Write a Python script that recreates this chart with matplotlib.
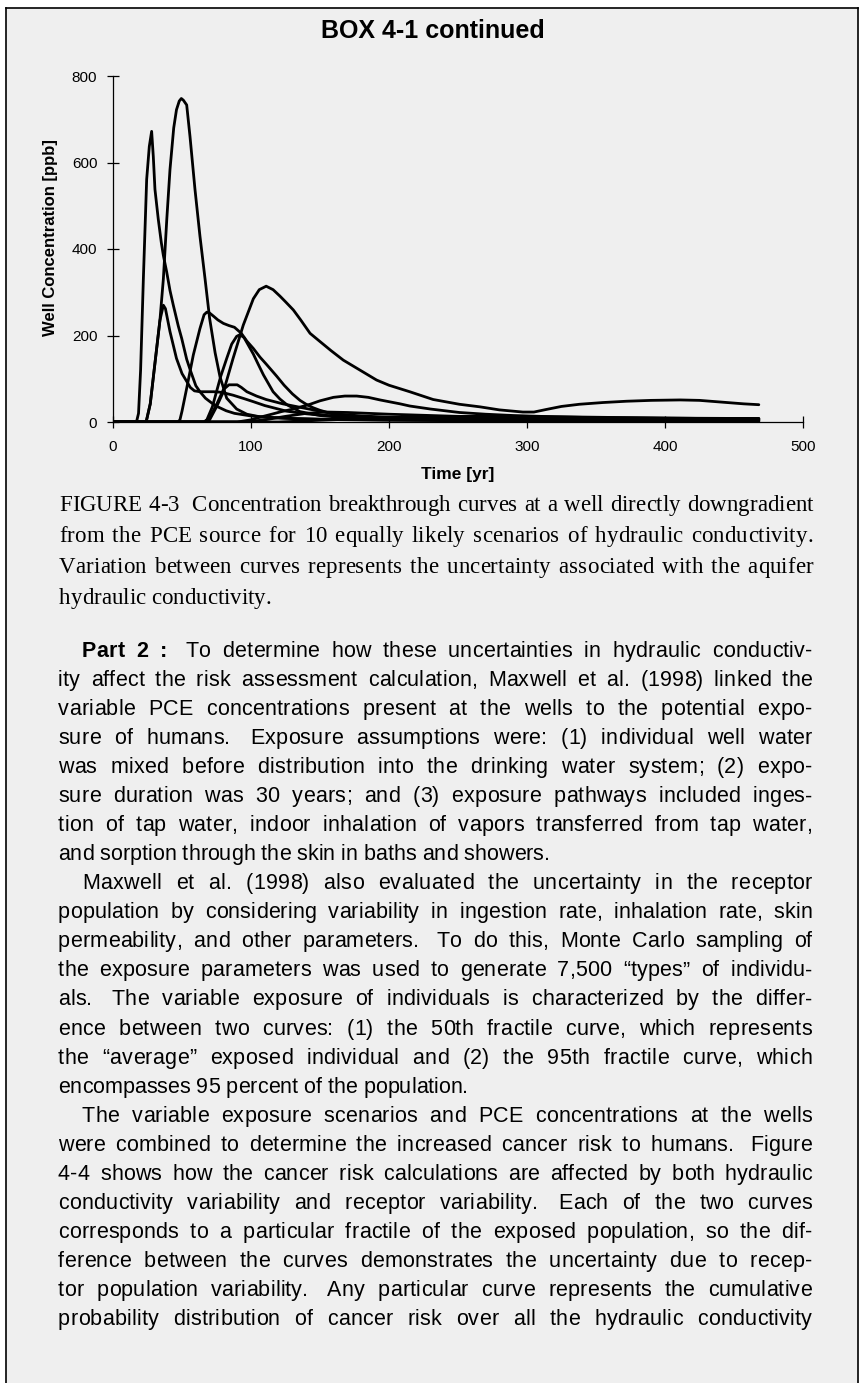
import matplotlib
matplotlib.use("Agg")
import matplotlib.pyplot as plt
from matplotlib.lines import Line2D
from matplotlib.patches import Rectangle

# page size in pixels
W, H = 865, 1383

# ---- chart data: 10 breakthrough curves (time [yr], concentration [ppb]) ----
time_1 = [0, 17, 18.5, 20, 22, 24.4, 26.3, 28, 29.2, 30.4, 32.8, 35, 36.5, 38.9, 41.3, 43.7, 47.3, 49.8,
          53.4, 56, 60, 63, 67, 71.5, 76, 82, 88, 100, 115, 130, 150, 175, 200, 250, 300, 350, 400, 468]
conc_1 = [0, 0, 20, 120, 331, 561, 637, 672, 614, 538, 469, 415, 385, 347, 304, 270, 222, 193,
          145, 120, 84, 70, 55, 44, 35, 26, 20, 14, 10, 8, 6, 5, 4, 3, 2.5, 2, 2, 1.5]

time_2 = [0, 24, 27, 30, 34, 36.5, 39, 41.3, 44, 46, 48, 49.5, 51, 53.4, 55.8, 59.4, 63, 66.7, 70,
          74, 77.5, 82.4, 89.6, 97, 106.5, 130, 160, 200, 250, 300, 400, 468]
conc_2 = [0, 0, 42, 125, 235, 331, 470, 584, 680, 722, 742, 748, 744, 733, 660, 538, 430, 331, 240,
          160, 105, 55, 30, 18, 12, 8, 6, 5, 4, 3.5, 3, 2.5]

time_3 = [0, 24, 27, 30, 34, 36.5, 38, 41.3, 46, 50, 53.4, 56, 59, 63, 68, 73, 77.5, 82, 87, 95,
          101.7, 110, 125.8, 140, 150, 175, 200, 250, 300, 400, 468]
conc_3 = [0, 0, 42, 125, 235, 270, 262, 209, 147, 112, 94, 80, 72, 70, 70, 70, 69, 66, 62, 54,
          47, 38, 25, 19, 16, 12, 10, 8, 7, 6, 5.5]

time_4 = [0, 47, 48.5, 50, 53.4, 58.2, 63, 66, 68, 70, 72.7, 76, 80, 84, 88, 93, 97, 101.7, 106.5,
          111, 118.6, 124, 130, 135.5, 140, 145, 150, 160, 180, 200, 250, 300, 400, 468]
conc_4 = [0, 0, 5, 25, 78, 155, 216, 248, 254, 252, 245, 236, 228, 223, 219, 205, 187, 170, 150,
          134, 106, 85, 65, 50, 41, 33, 27, 18, 12, 9, 7, 6, 5, 4.5]

time_5 = [0, 66, 68, 72, 75, 78, 82.4, 86, 89.6, 92, 95, 98, 101.7, 105, 109, 116, 121, 126, 135.5,
          150, 160, 180, 200, 250, 300, 400, 468]
conc_5 = [0, 0, 5, 35, 70, 105, 147, 180, 198, 202, 195, 178, 157, 135, 109, 70, 53, 40, 24,
          15, 12, 9, 7, 5.5, 4.5, 4, 3.5]

time_6 = [0, 68, 70, 75, 80, 87, 94.4, 101.7, 106, 111, 116, 121, 125, 130.7, 136, 142.8, 150, 158,
          166.9, 180, 191, 200, 215, 232, 251, 266, 280, 297, 305, 314, 325, 338, 355, 372, 390, 411,
          425, 437, 457, 468]
conc_6 = [0, 0, 5, 35, 70, 147, 224, 285, 306, 314, 306, 291, 278, 259, 236, 205, 186, 165,
          143, 118, 97, 85, 70, 52, 41, 35, 28, 23, 23, 29, 36, 41, 45, 48, 50, 51,
          50, 47, 42, 40]

time_7 = [0, 90, 100, 106.5, 115, 122, 130.7, 142.8, 150, 159.7, 168, 176.6, 185, 193.5, 208, 215,
          230, 251, 270, 290, 320, 350, 400, 468]
conc_7 = [0, 0, 5, 11, 18, 24, 30, 41, 49, 57, 60, 60, 57, 51, 42, 37,
          30, 22, 18, 15, 12, 10, 9, 8]

time_8 = [0, 66, 70, 75, 80, 84, 90, 93, 97, 104, 111, 123, 135.5, 150, 160, 180, 200, 250, 300, 400, 468]
conc_8 = [0, 0, 9, 40, 75, 86, 86, 80, 70, 60, 52, 42, 34, 25, 19, 14, 11, 8.5, 7.5, 6.5, 6]

time_9 = [0, 95, 110, 125, 140, 155, 170, 200, 250, 300, 350, 400, 468]
conc_9 = [0, 0, 5, 13, 20, 23, 22, 18, 13, 10, 9, 8.5, 8]

time_10 = [0, 120, 150, 200, 250, 300, 350, 400, 468]
conc_10 = [0, 0, 4, 10, 13, 13, 11, 9, 7]

x_ticks = [0, 100, 200, 300, 400, 500]
y_ticks = [0, 200, 400, 600, 800]

# ---- text of the page ----
title = "BOX 4-1 continued"
x_label = "Time [yr]"
y_label = "Well Concentration [ppb]"

caption_lines = [
    "FIGURE 4-3  Concentration breakthrough curves at a well directly downgradient",
    "from the PCE source for 10 equally likely scenarios of hydraulic conductivity.",
    "Variation between curves represents the uncertainty associated with the aquifer",
    "hydraulic conductivity.",
]

body_lines = [
    "Part 2 :  To determine how these uncertainties in hydraulic conductiv-",
    "ity affect the risk assessment calculation, Maxwell et al. (1998) linked the",
    "variable PCE concentrations present at the wells to the potential expo-",
    "sure of humans.  Exposure assumptions were: (1) individual well water",
    "was mixed before distribution into the drinking water system; (2) expo-",
    "sure duration was 30 years; and (3) exposure pathways included inges-",
    "tion of tap water, indoor inhalation of vapors transferred from tap water,",
    "and sorption through the skin in baths and showers.",
    "Maxwell et al. (1998) also evaluated the uncertainty in the receptor",
    "population by considering variability in ingestion rate, inhalation rate, skin",
    "permeability, and other parameters.  To do this, Monte Carlo sampling of",
    "the exposure parameters was used to generate 7,500 \u201ctypes\u201d of individu-",
    "als.  The variable exposure of individuals is characterized by the differ-",
    "ence between two curves: (1) the 50th fractile curve, which represents",
    "the \u201caverage\u201d exposed individual and (2) the 95th fractile curve, which",
    "encompasses 95 percent of the population.",
    "The variable exposure scenarios and PCE concentrations at the wells",
    "were combined to determine the increased cancer risk to humans.  Figure",
    "4-4 shows how the cancer risk calculations are affected by both hydraulic",
    "conductivity variability and receptor variability.  Each of the two curves",
    "corresponds to a particular fractile of the exposed population, so the dif-",
    "ference between the curves demonstrates the uncertainty due to recep-",
    "tor population variability.  Any particular curve represents the cumulative",
    "probability distribution of cancer risk over all the hydraulic conductivity",
]
# lines that start a paragraph (indented) and lines that end one (not justified)
para_start = [0, 8, 16]
para_end = [7, 15]


def fx(x):
    return x / W


def fy(y):
    return 1 - y / H


body_kw = dict(fontsize=15.5, family="Liberation Sans")
cap_kw = dict(fontsize=16.5, family="Liberation Serif")

fig = plt.figure(figsize=(W / 100, H / 100), dpi=100)
fig.patch.set_facecolor("white")

# grey box with left / top / right border
fig.patches.append(Rectangle((fx(6), 0), fx(858) - fx(6), fy(8), transform=fig.transFigure,
                             facecolor="#efefef", edgecolor="none", zorder=-10))
for xs, ys in [([6, 6], [8, H]), ([6, 858], [8, 8]), ([858, 858], [8, H])]:
    fig.lines.append(Line2D([fx(v) for v in xs], [fy(v) for v in ys], transform=fig.transFigure,
                            color="black", lw=1.2))

fig.text(fx(433), fy(31), title, ha="center", va="center", fontsize=18, fontweight="bold",
         family="Liberation Sans")

# ---- the chart ----
ax_left, ax_right, ax_top, ax_bottom = 113, 803, 76, 422
ax = fig.add_axes([fx(ax_left), fy(ax_bottom), (ax_right - ax_left) / W, (ax_bottom - ax_top) / H])
ax.set_facecolor("none")

curves = [(time_1, conc_1), (time_2, conc_2), (time_3, conc_3), (time_4, conc_4), (time_5, conc_5),
          (time_6, conc_6), (time_7, conc_7), (time_8, conc_8), (time_9, conc_9), (time_10, conc_10)]
for t, c in curves:
    ax.plot(t, c, color="black", lw=2.0, solid_joinstyle="round", solid_capstyle="round")

ax.set_xlim(0, 500)
ax.set_ylim(0, 800)
ax.set_xticks(x_ticks)
ax.set_yticks(y_ticks)
for s in ["top", "right"]:
    ax.spines[s].set_visible(False)
for s in ["left", "bottom"]:
    ax.spines[s].set_linewidth(0.9)
ax.tick_params(direction="inout", length=8.5, width=0.9, labelsize=11)
ax.tick_params(axis="x", pad=9)
ax.tick_params(axis="y", pad=7)
for lab in ax.get_xticklabels() + ax.get_yticklabels():
    lab.set_family("Liberation Sans")

fig.text(fx(458), fy(474), x_label, ha="center", va="center", fontsize=12.5, fontweight="bold",
         family="Liberation Sans")
fig.text(fx(51), fy(238), y_label, ha="center", va="center", rotation=90, fontsize=12,
         fontweight="bold", family="Liberation Sans")

# ---- justified text, spread over word gaps and (a little) letter gaps ----
renderer = fig.canvas.get_renderer()
_cache = {}


def text_width(s, **kw):
    t = fig.text(0, 0, s, **kw)
    w = t.get_window_extent(renderer).width
    t.remove()
    return w


def advance(ch, weight, kw):
    key = (ch, weight, kw["family"], kw["fontsize"])
    if key not in _cache:
        _cache[key] = (text_width("x" + ch + "x", fontweight=weight, **kw)
                       - text_width("xx", fontweight=weight, **kw))
    return _cache[key]


def put_line(line, x0, x1, ybase, justify=True, n_bold=0, letter_share=0.15, **kw):
    words, gaps = [], []
    empties = 0
    for p in line.split(" "):
        if p == "":
            empties += 1
            continue
        if words:
            gaps.append(1 + empties)
        words.append(p)
        empties = 0
    weights = ["bold" if i < n_bold else "normal" for i in range(len(words))]
    sw = advance(" ", "normal", kw)
    advs = [[advance(ch, wt, kw) for ch in wd] for wd, wt in zip(words, weights)]
    natural = sum(sum(a) for a in advs) + sum(gaps) * sw
    n_letter = sum(len(wd) - 1 for wd in words)
    add_l = add_w = 0
    if justify and gaps:
        extra = (x1 - x0) - natural
        add_l = letter_share * extra / n_letter if n_letter else 0
        add_w = (extra - add_l * n_letter) / len(gaps)
    x = x0
    for i, wd in enumerate(words):
        for j, ch in enumerate(wd):
            fig.text(fx(x), fy(ybase), ch, ha="left", va="baseline", fontweight=weights[i], **kw)
            x += advs[i][j] + (add_l if j < len(wd) - 1 else 0)
        if i < len(gaps):
            x += gaps[i] * sw + add_w


for i, line in enumerate(caption_lines):
    put_line(line, 59, 813, 511 + 31 * i, justify=(i < len(caption_lines) - 1),
             letter_share=0.25, **cap_kw)

for i, line in enumerate(body_lines):
    x0 = 58 + 24 if i in para_start else 58
    put_line(line, x0, 812, 657 + 29.04 * i, justify=(i not in para_end),
             n_bold=3 if i == 0 else 0, **body_kw)

fig.savefig("out.png", dpi=100, facecolor=fig.get_facecolor())
